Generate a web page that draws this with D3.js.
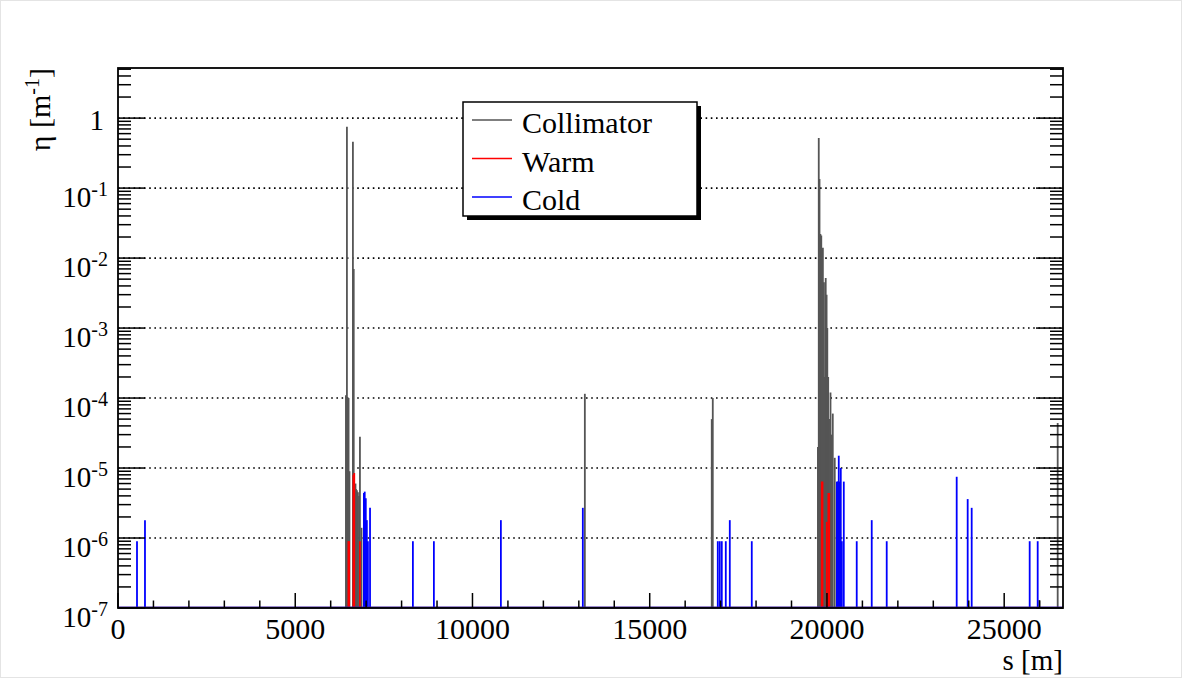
<!DOCTYPE html>
<html>
<head>
<meta charset="utf-8">
<script src="https://cdn.jsdelivr.net/npm/d3@7/dist/d3.min.js"></script>
<style>
	body { margin: 0; background: #fff; }
	text { font-family: "Liberation Serif", "Times New Roman", serif; fill: #000; }
</style>
</head>
<body>
<svg id="chart" width="1182" height="678"></svg>
<script>
// s positions [m] and eta values [1/m]
const collimatorS   = [6430, 6458, 6486, 6505, 6530, 6627, 6650, 6683, 6700, 6712, 6740, 6768, 6800, 6825, 6870,
                       13170, 16750, 16779,
                       19745, 19769, 19790, 19815, 19840, 19865, 19885, 19915, 19940, 19965, 19990, 20010, 20035, 20060, 20100, 20130, 20164, 20220,
                       25990, 26509];
const collimatorEta = [1.1e-4, 0.75, 1.0e-4, 1.0e-4, 9e-6, 0.46, 7e-3, 5e-6, 6e-6, 5e-6, 4.8e-6, 4.5e-6, 4e-6, 2.8e-5, 1.4e-6,
                       1.15e-4, 5e-5, 1.0e-4,
                       2e-5, 0.52, 0.135, 0.022, 0.021, 1e-4, 0.014, 4.5e-3, 2e-4, 5.2e-3, 3e-3, 1e-3, 2e-4, 5e-5, 1.2e-4, 3e-5, 6e-5, 1.4e-5,
                       1.3e-7, 4.4e-5];

const warmS   = [6500, 6520, 6640, 6665, 6825, 19853, 19875, 19995, 20040, 20065];
const warmEta = [9e-7, 9e-7, 8e-6, 8.5e-6, 9e-7, 6.4e-6, 6.4e-6, 1.7e-6, 4.4e-6, 4.4e-6];

const coldS   = [536, 761, 6937, 6960, 6990, 7020, 7050, 7110, 8319, 8911, 10801, 13113,
                 16920, 16976, 17033, 17146, 17259, 17879,
                 20280, 20310, 20333, 20360, 20390, 20420, 20475, 20840, 21263, 21686,
                 23660, 23970, 24083, 25719, 25945];
const coldEta = [9e-7, 1.8e-6, 4.4e-6, 4.6e-6, 3.7e-6, 1.8e-6, 9e-7, 2.7e-6, 9e-7, 9e-7, 1.8e-6, 2.7e-6,
                 9e-7, 9e-7, 9e-7, 9e-7, 1.8e-6, 9e-7,
                 6.4e-6, 6.4e-6, 1.5e-5, 6.4e-6, 1e-5, 9e-7, 6.4e-6, 9e-7, 1.8e-6, 9e-7,
                 7.5e-6, 3.6e-6, 2.7e-6, 9e-7, 9e-7];

const xTicks = [0, 5000, 10000, 15000, 20000, 25000];
const yDecades = [-7, -6, -5, -4, -3, -2, -1, 0];
const seriesNames = ['Collimator', 'Warm', 'Cold'];
const seriesColors = ['#555555', '#ff0000', '#0000ff'];

const margin = { top: 68, right: 119, bottom: 70, left: 118 };
const W = 1182, H = 678;

let svg = d3.select('#chart');

svg.append('rect')
	.attr('x', 0.5).attr('y', 0.5)
	.attr('width', W - 1).attr('height', H - 1)
	.attr('fill', '#fff').attr('stroke', '#e4e4e4');

let x = d3.scaleLinear().domain([0, 26659]).range([margin.left, W - margin.right]);
let y = d3.scaleLog().domain([1e-7, 5.2]).range([H - margin.bottom, margin.top]);

// dotted horizontal grid at decades
svg.append('g').selectAll('line')
	.data(yDecades.filter(d => d > -7))
	.enter().append('line')
	.attr('x1', x.range()[0]).attr('x2', x.range()[1])
	.attr('y1', d => y(Math.pow(10, d))).attr('y2', d => y(Math.pow(10, d)))
	.attr('stroke', '#000')
	.attr('stroke-width', 1.6)
	.attr('stroke-dasharray', '1.6,3.6');

// spikes
function drawSpikes(sArr, etaArr, color) {
	let pts = sArr.map((s, i) => ({ s: s, eta: etaArr[i] }));
	svg.append('g').selectAll('line')
		.data(pts)
		.enter().append('line')
		.attr('x1', d => x(d.s)).attr('x2', d => x(d.s))
		.attr('y1', y(1e-7))
		.attr('y2', d => y(d.eta))
		.attr('stroke', color)
		.attr('stroke-width', 1.8);
}
drawSpikes(collimatorS, collimatorEta, seriesColors[0]);
drawSpikes(warmS, warmEta, seriesColors[1]);
drawSpikes(coldS, coldEta, seriesColors[2]);

// baseline of the histograms at the bottom
svg.append('line')
	.attr('x1', x.range()[0]).attr('x2', x.range()[1])
	.attr('y1', y(1e-7) - 0.5).attr('y2', y(1e-7) - 0.5)
	.attr('stroke', '#3a1aa0').attr('stroke-width', 2);

// frame
svg.append('rect')
	.attr('x', margin.left).attr('y', margin.top)
	.attr('width', x.range()[1] - x.range()[0])
	.attr('height', y.range()[0] - y.range()[1])
	.attr('fill', 'none').attr('stroke', '#000').attr('stroke-width', 1.8);

// x ticks (inward)
let xMinor = d3.range(0, 26659, 1000);
svg.append('g').selectAll('line')
	.data(xMinor)
	.enter().append('line')
	.attr('x1', d => x(d)).attr('x2', d => x(d))
	.attr('y1', y.range()[0])
	.attr('y2', d => y.range()[0] - (d % 5000 === 0 ? 15 : 7.5))
	.attr('stroke', '#000').attr('stroke-width', 1.5);

svg.append('g').selectAll('text')
	.data(xTicks)
	.enter().append('text')
	.attr('x', d => x(d)).attr('y', 639)
	.attr('text-anchor', 'middle')
	.style('font-size', '30px')
	.text(d => d);

// y ticks on both sides (inward)
let yMinor = [];
yDecades.forEach(p => {
	for (let m = 1; m <= 9; m++) {
		let v = m * Math.pow(10, p);
		if (v >= 1e-7 && v <= 5.2) yMinor.push({ v: v, major: m === 1 });
	}
});
[x.range()[0], x.range()[1]].forEach((xe, side) => {
	let dir = side === 0 ? 1 : -1;
	svg.append('g').selectAll('line')
		.data(yMinor)
		.enter().append('line')
		.attr('x1', xe)
		.attr('x2', d => xe + dir * (d.major ? 27 : 13))
		.attr('y1', d => y(d.v)).attr('y2', d => y(d.v))
		.attr('stroke', '#000').attr('stroke-width', 1.5);
});

let yLab = svg.append('g').selectAll('text')
	.data(yDecades)
	.enter().append('text')
	.attr('x', 108)
	.attr('y', d => y(Math.pow(10, d)) + 19)
	.attr('text-anchor', 'end')
	.style('font-size', '29px');
yLab.each(function (d) {
	let t = d3.select(this);
	if (d === 0) {
		t.attr('x', 104).attr('y', y(1) + 12).text('1');
	} else {
		t.append('tspan').text('10');
		t.append('tspan').attr('dy', -11).style('font-size', '20px').text(d);
	}
});

// axis titles
svg.append('text')
	.attr('x', x.range()[1]).attr('y', 670)
	.attr('text-anchor', 'end')
	.style('font-size', '29px')
	.text('s [m]');

let yt = svg.append('text')
	.attr('transform', 'translate(50,68) rotate(-90)')
	.attr('text-anchor', 'end')
	.style('font-size', '30px');
yt.append('tspan').text('\u03b7 [m');
yt.append('tspan').attr('dy', -11).style('font-size', '20px').text('-1');
yt.append('tspan').attr('dy', 11).text(']');

// legend
let lg = svg.append('g').attr('transform', 'translate(463,102)');
lg.append('rect')
	.attr('x', 4).attr('y', 4).attr('width', 234).attr('height', 114)
	.attr('fill', '#000');
lg.append('rect')
	.attr('x', 0).attr('y', 0).attr('width', 234).attr('height', 114)
	.attr('fill', '#fff').attr('stroke', '#000').attr('stroke-width', 1.5);

let entries = lg.selectAll('g.entry')
	.data(seriesNames)
	.enter().append('g')
	.attr('transform', (d, i) => 'translate(0,' + (31 + i * 38.5) + ')');
entries.append('line')
	.attr('x1', 9).attr('x2', 49)
	.attr('y1', -13).attr('y2', -13)
	.attr('stroke', (d, i) => seriesColors[i])
	.attr('stroke-width', 1.5);
entries.append('text')
	.attr('x', 59).attr('y', 0)
	.style('font-size', '30px')
	.text(d => d);
</script>
</body>
</html>
